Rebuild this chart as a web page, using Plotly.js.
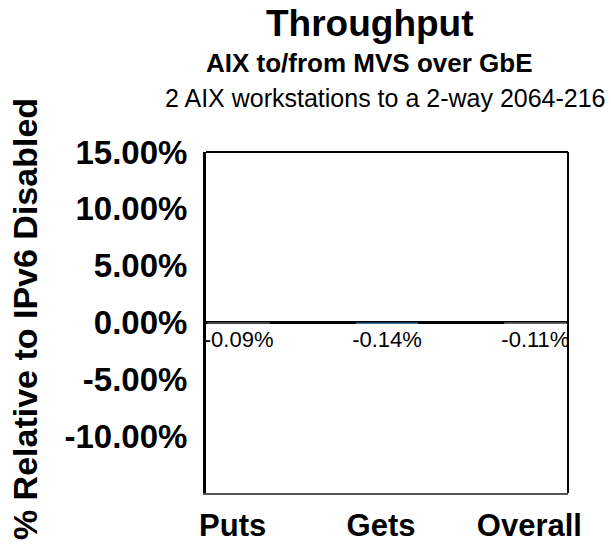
<!DOCTYPE html>
<html>
<head>
<meta charset="utf-8">
<script src="https://cdn.plot.ly/plotly-3.0.1.min.js"></script>
<style>html,body{margin:0;padding:0;background:#fff;}#chart{width:611px;height:546px;}</style>
</head>
<body>
<div id="chart"></div>
<script>
const categories = ['Puts', 'Gets', 'Overall'];
const values = [-0.09, -0.14, -0.11];
const barColors = ['#8c8c8c', '#3d6f99', '#8c8c8c'];
const yTickVals = [15, 10, 5, 0, -5, -10];
const yTickText = ['15.00%', '10.00%', '5.00%', '0.00%', '-5.00%', '-10.00%'];
const titleText = 'Throughput';
const subtitle1 = 'AIX to/from MVS over GbE';
const subtitle2 = '2 AIX workstations to a 2-way 2064-216';
const yTitle = '% Relative to IPv6 Disabled';

const FONT = 'Liberation Sans, Arial, sans-serif';
const xPos = categories.map((c, i) => i);

const trace = {
  type: 'bar',
  x: xPos,
  y: values,
  width: 0.42,
  marker: {color: barColors, line: {width: 0}},
  text: values.map(v => v.toFixed(2) + '%'),
  textposition: 'outside',
  constraintext: 'none',
  cliponaxis: false,
  textfont: {family: FONT, size: 22, color: '#000'},
  hoverinfo: 'none'
};

const layout = {
  width: 611, height: 546,
  margin: {l: 206, r: 43, t: 152, b: 53},
  paper_bgcolor: '#fff', plot_bgcolor: '#fff',
  showlegend: false,
  font: {family: FONT, color: '#000'},
  xaxis: {
    range: [-0.22, 2.22],
    tickvals: xPos, ticktext: categories,
    tickfont: {family: FONT, size: 31, color: '#000', weight: 'bold'},
    ticks: 'outside', ticklen: 4, tickcolor: 'rgba(0,0,0,0)',
    ticklabelshift: -6,
    showgrid: false, zeroline: false,
    showline: true, linecolor: '#555', linewidth: 2, mirror: false
  },
  yaxis: {
    range: [-15, 15],
    tickvals: yTickVals, ticktext: yTickText,
    tickfont: {family: FONT, size: 33, color: '#000', weight: 'bold'},
    ticks: 'outside', ticklen: 9, tickcolor: 'rgba(0,0,0,0)',
    showgrid: false,
    zeroline: true, zerolinecolor: '#000', zerolinewidth: 3,
    showline: true, linecolor: '#000', linewidth: 3, mirror: false
  },
  shapes: [
    {type: 'line', xref: 'paper', yref: 'paper', x0: 0, x1: 1, y0: 1, y1: 1, line: {color: '#000', width: 2}},
    {type: 'line', xref: 'paper', yref: 'paper', x0: 1, x1: 1, y0: 0, y1: 1, line: {color: '#000', width: 2}}
  ],
  annotations: [
    {text: '<b>' + titleText + '</b>', xref: 'paper', yref: 'paper', x: 0.453, y: 1.44, xanchor: 'center', yanchor: 'top', showarrow: false, borderpad: 0, font: {family: FONT, size: 37, color: '#000'}},
    {text: '<b>' + subtitle1 + '</b>', xref: 'paper', yref: 'paper', x: 0.453, y: 1.262, xanchor: 'center', yanchor: 'middle', showarrow: false, borderpad: 0, font: {family: FONT, size: 26, color: '#000'}},
    {text: subtitle2, xref: 'paper', yref: 'paper', x: 0.497, y: 1.157, xanchor: 'center', yanchor: 'middle', showarrow: false, borderpad: 0, font: {family: FONT, size: 25, color: '#000'}},
    {text: '<b>' + yTitle + '</b>', xref: 'paper', yref: 'paper', x: -0.50, y: 0.51, xanchor: 'center', yanchor: 'middle', textangle: -90, showarrow: false, font: {family: FONT, size: 34, color: '#000'}}
  ]
};

Plotly.newPlot('chart', [trace], layout, {staticPlot: true, displayModeBar: false});
</script>
</body>
</html>
